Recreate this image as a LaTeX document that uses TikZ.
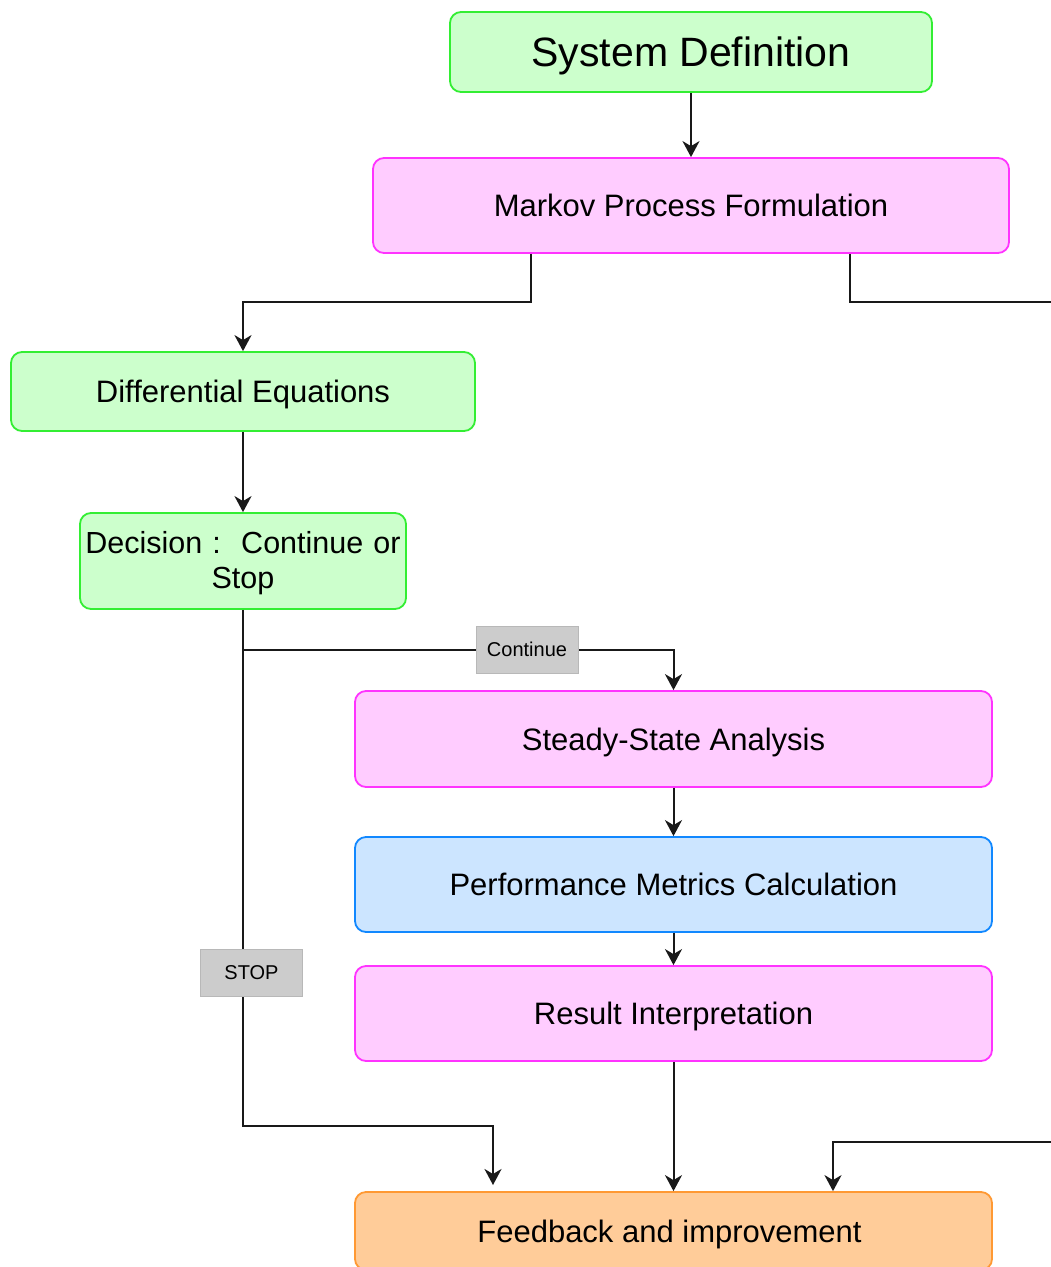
\documentclass[tikz,border=0pt]{standalone}
\usepackage{fontspec}
\setmainfont{Liberation Sans}
\usetikzlibrary{arrows.meta}
\definecolor{gfill}{HTML}{CCFFCC}
\definecolor{gline}{HTML}{33EE33}
\definecolor{pfill}{HTML}{FFCCFF}
\definecolor{pline}{HTML}{FF33FF}
\definecolor{bfill}{HTML}{CCE5FF}
\definecolor{bline}{HTML}{1188FF}
\definecolor{ofill}{HTML}{FFCC99}
\definecolor{oline}{HTML}{FF9933}
\definecolor{lfill}{HTML}{CCCCCC}
\tikzset{
  box/.style={draw, line width=1.8pt, rounded corners=11pt, inner sep=0pt, align=center,
    font=\fontsize{31}{35}\selectfont},
  oneline/.style={text depth=0pt},
  gbox/.style={box, fill=gfill, draw=gline},
  pbox/.style={box, fill=pfill, draw=pline},
  bbox/.style={box, fill=bfill, draw=bline},
  obox/.style={box, fill=ofill, draw=oline},
  lab/.style={fill=lfill, draw=lfill!90!black, line width=0.3pt, inner sep=0pt,
    minimum width=102pt, minimum height=47pt, font=\fontsize{20}{24}\selectfont},
  conn/.style={line width=2pt, draw=black!90},
  arr/.style={conn, -{Stealth[length=16pt, width=17pt, inset=5pt]}}
}
\begin{document}
\begin{tikzpicture}[x=1pt, y=-1pt]
\clip (0,0) rectangle (1051,1267);
\fill[white] (0,0) rectangle (1051,1267);

\node[gbox, oneline, minimum width=482pt, minimum height=80pt, font=\fontsize{41}{45}\selectfont] (sys) at (691,52) {System Definition};
\node[pbox, oneline, minimum width=636pt, minimum height=95pt] (markov) at (691,205.5) {Markov Process Formulation};
\node[gbox, oneline, minimum width=464pt, minimum height=79pt] (diff) at (243,391.5) {Differential Equations};
\node[gbox, minimum width=326pt, minimum height=96pt, text width=326pt, font=\fontsize{30.5}{35}\selectfont] (dec) at (243,561) {\rule{0pt}{27pt}Decision :\ \ Continue or\\Stop};
\node[pbox, oneline, minimum width=637pt, minimum height=96pt] (steady) at (673.5,739) {Steady-State Analysis};
\node[bbox, oneline, minimum width=637pt, minimum height=95pt] (perf) at (673.5,884.5) {Performance Metrics Calculation};
\node[pbox, oneline, minimum width=637pt, minimum height=95pt] (res) at (673.5,1013.5) {Result Interpretation};
\node[obox, oneline, minimum width=637pt, minimum height=78pt] (fb) at (673.5,1231) {Feedback and improvement\hspace*{8pt}};

\coordinate (ex1) at (531,302);
\coordinate (ex2) at (850,302);
\coordinate (redge) at (1051,302);
\coordinate (dj) at (243,650);
\coordinate (sb) at (243,1126);
\coordinate (stopend) at (493,1185);
\coordinate (rin) at (1051,1142);
\coordinate (rinx) at (833,1142);

\draw[arr] (sys.south) -- (markov.north);
\draw[arr] (ex1 |- markov.south) -- (ex1) -| (diff.north);
\draw[conn] (ex2 |- markov.south) -- (ex2) -- (redge);
\draw[arr] (diff.south) -- (dec.south |- dec.north);
\draw[arr] (dec.south) -- (dj) -| (steady.north);
\draw[arr] (dj) -- (sb) -| (stopend);
\draw[arr] (steady.south) -- (perf.north);
\draw[arr] (perf.south) -- (res.north);
\draw[arr] (res.south) -- (fb.north);
\draw[arr] (rin) -- (rinx) -- (rinx |- fb.north);

\node[lab] (lcont) at (527,649.5) {Continue};
\node[lab] (lstop) at (251.5,972.5) {STOP};
\end{tikzpicture}
\end{document}
